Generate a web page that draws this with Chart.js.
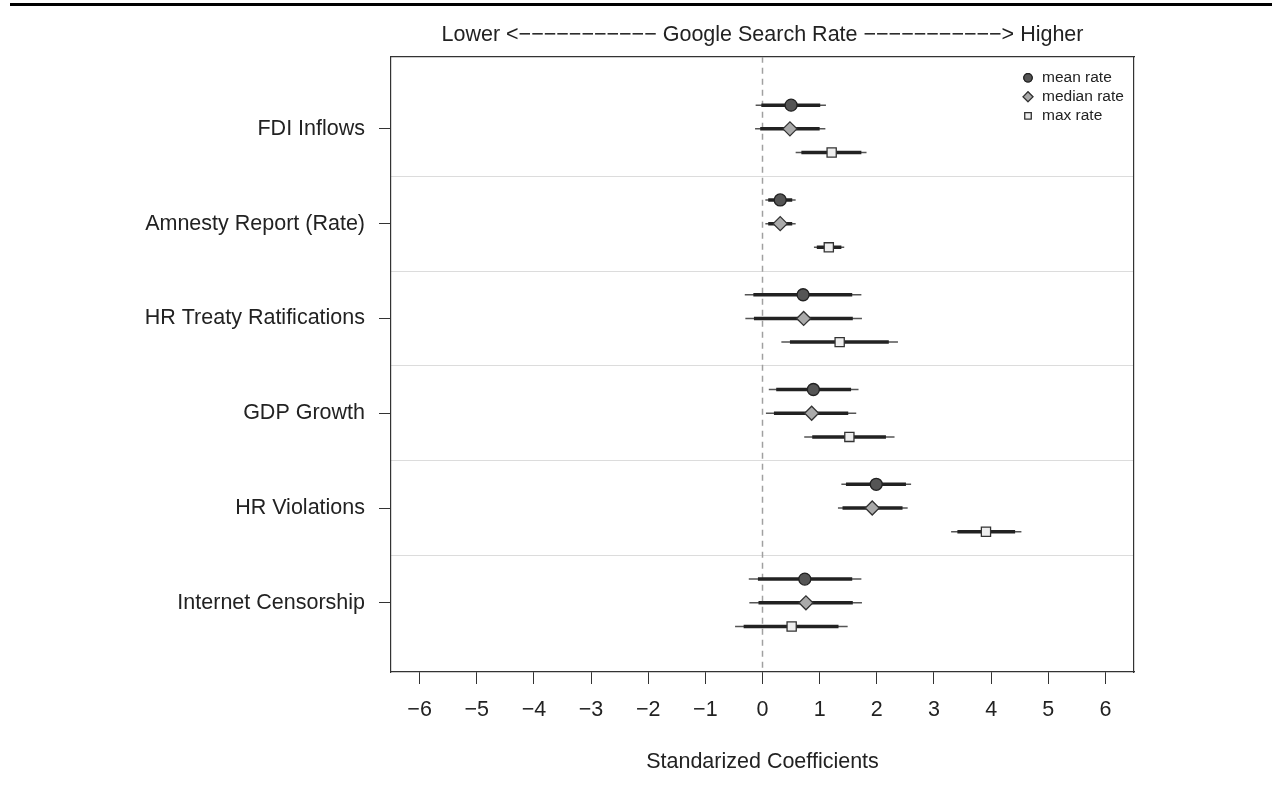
<!DOCTYPE html>
<html lang="en">
<head>
<meta charset="UTF-8">
<title>Standarized Coefficients</title>
<script src="https://cdn.jsdelivr.net/npm/chart.js@4.4.0/dist/chart.umd.min.js"></script>
<style>
    html, body { margin: 0; padding: 0; background: #fff; }
    #wrap { position: relative; width: 1280px; height: 792px; }
    #topRule { position: absolute; left: 10px; top: 3px; width: 1262px; height: 3px; background: #000; }
</style>
</head>
<body>
<div id="wrap">
    <div id="topRule"></div>
    <canvas id="chart" width="1280" height="792"></canvas>
</div>
<script>
// categories, top to bottom
const categories = ['FDI Inflows', 'Amnesty Report (Rate)', 'HR Treaty Ratifications', 'GDP Growth', 'HR Violations', 'Internet Censorship'];
const seriesNames = ['mean rate', 'median rate', 'max rate'];
const xTicks = [-6, -5, -4, -3, -2, -1, 0, 1, 2, 3, 4, 5, 6];

// mean rate
const meanEst   = [0.50, 0.31, 0.71, 0.89, 1.99, 0.74];
const meanLoIn  = [-0.02, 0.10, -0.16, 0.24, 1.46, -0.08];
const meanHiIn  = [1.01, 0.52, 1.57, 1.55, 2.51, 1.57];
const meanLoOut = [-0.12, 0.05, -0.31, 0.11, 1.38, -0.24];
const meanHiOut = [1.11, 0.58, 1.73, 1.68, 2.60, 1.73];

// median rate
const medEst   = [0.48, 0.31, 0.72, 0.86, 1.92, 0.76];
const medLoIn  = [-0.04, 0.10, -0.15, 0.20, 1.40, -0.07];
const medHiIn  = [1.00, 0.52, 1.58, 1.50, 2.45, 1.58];
const medLoOut = [-0.13, 0.05, -0.30, 0.06, 1.32, -0.23];
const medHiOut = [1.10, 0.58, 1.74, 1.64, 2.54, 1.74];

// max rate
const maxEst   = [1.21, 1.16, 1.35, 1.52, 3.91, 0.51];
const maxLoIn  = [0.68, 0.95, 0.48, 0.87, 3.41, -0.33];
const maxHiIn  = [1.73, 1.38, 2.21, 2.16, 4.42, 1.33];
const maxLoOut = [0.58, 0.90, 0.33, 0.73, 3.30, -0.48];
const maxHiOut = [1.82, 1.43, 2.37, 2.31, 4.53, 1.49];

const FONT = '"Liberation Sans", Arial, Helvetica, sans-serif';
const FS = 21.5;
const Y_MIN = -0.76, Y_MAX = 5.73;

const styles = [
    { off: -0.25, shape: 'circle',  radius: 6,   fill: '#555555', edge: '#222222' },
    { off: 0,     shape: 'rectRot', radius: 7,   fill: '#aaaaaa', edge: '#333333' },
    { off: 0.25,  shape: 'rect',    radius: 6.5, fill: '#eeeeee', edge: '#333333' }
];
const series = [
    [meanEst, meanLoIn, meanHiIn, meanLoOut, meanHiOut],
    [medEst, medLoIn, medHiIn, medLoOut, medHiOut],
    [maxEst, maxLoIn, maxHiIn, maxLoOut, maxHiOut]
];

// segments separated by NaN points so the line breaks between rows
function segments(lo, hi, off) {
    const pts = [];
    lo.forEach((v, i) => {
        pts.push({ x: v, y: i + off }, { x: hi[i], y: i + off }, { x: NaN, y: NaN });
    });
    return pts;
}

const datasets = [];
series.forEach((s, k) => {
    const st = styles[k];
    datasets.push({
        label: seriesNames[k],
        data: s[0].map((v, i) => ({ x: v, y: i + st.off })),
        pointStyle: st.shape,
        pointRadius: st.radius,
        pointBackgroundColor: st.fill,
        pointBorderColor: st.edge,
        pointBorderWidth: 1.3,
        showLine: false,
        order: 0
    });
    datasets.push({
        label: seriesNames[k] + ' inner',
        data: segments(s[1], s[2], st.off),
        showLine: true, spanGaps: false,
        borderColor: '#222222', borderWidth: 3.5,
        pointRadius: 0, order: 1
    });
    datasets.push({
        label: seriesNames[k] + ' outer',
        data: segments(s[3], s[4], st.off),
        showLine: true, spanGaps: false,
        borderColor: '#555555', borderWidth: 1.5,
        pointRadius: 0, order: 2
    });
});
// zero reference line
datasets.push({
    label: 'zero',
    data: [{ x: 0, y: Y_MIN }, { x: 0, y: Y_MAX }],
    showLine: true, borderColor: '#a0a0a0', borderWidth: 1.5, borderDash: [6, 5],
    pointRadius: 0, order: 3
});

// legend inside the top-right of the plot
const boxLegend = {
    id: 'boxLegend',
    afterDraw(chart) {
        const ctx = chart.ctx;
        const x0 = chart.chartArea.right - 106, y0 = chart.chartArea.top + 21;
        ctx.save();
        ctx.font = '15.5px ' + FONT;
        ctx.textBaseline = 'middle';
        seriesNames.forEach((name, k) => {
            const st = styles[k];
            const y = y0 + k * 19;
            ctx.fillStyle = st.fill;
            ctx.strokeStyle = st.edge;
            ctx.lineWidth = 1.2;
            Chart.helpers.drawPoint(ctx, { pointStyle: st.shape, radius: st.radius * 0.7, rotation: 0, borderWidth: 1.2 }, x0, y);
            ctx.fill();
            ctx.stroke();
            ctx.fillStyle = '#222';
            ctx.fillText(name, x0 + 14, y);
        });
        ctx.restore();
    }
};

const dash = '\u2212'.repeat(11);

new Chart(document.getElementById('chart'), {
    type: 'scatter',
    data: { datasets },
    options: {
        responsive: false,
        animation: false,
        layout: { padding: { left: 0, right: 146, top: 0, bottom: 0 } },
        plugins: {
            legend: { display: false },
            tooltip: { enabled: false },
            title: {
                display: true,
                fullSize: false,
                text: 'Lower <' + dash + ' Google Search Rate ' + dash + '> Higher',
                color: '#222',
                font: { family: FONT, size: FS, weight: 'normal' },
                padding: { top: 22, bottom: 9 }
            }
        },
        scales: {
            x: {
                type: 'linear', position: 'bottom', min: -6.5, max: 6.5,
                afterBuildTicks: s => { s.ticks = xTicks.map(v => ({ value: v })); },
                afterFit: s => { s.height = 120; },
                ticks: {
                    color: '#222', padding: 13, maxRotation: 0,
                    font: { family: FONT, size: FS },
                    callback: v => v < 0 ? '\u2212' + Math.abs(v) : String(v)
                },
                grid: { drawOnChartArea: false, tickLength: 12, color: '#333' },
                border: { color: '#333', width: 1.2 },
                title: {
                    display: true, text: 'Standarized Coefficients', color: '#222',
                    font: { family: FONT, size: FS }, padding: { top: 0, bottom: 17 }
                }
            },
            xTop: {
                type: 'linear', position: 'top', min: -6.5, max: 6.5,
                afterFit: s => { s.height = 0; },
                ticks: { display: false },
                grid: { display: false, drawTicks: false },
                border: { display: true, color: '#333', width: 1.2 }
            },
            y: {
                type: 'linear', position: 'left', reverse: true, min: Y_MIN, max: Y_MAX,
                afterBuildTicks: s => { s.ticks = categories.map((c, i) => ({ value: i })); },
                afterFit: s => { s.width = 391; },
                ticks: {
                    color: '#222', padding: 14,
                    font: { family: FONT, size: FS },
                    callback: v => categories[v]
                },
                grid: { drawOnChartArea: false, tickLength: 12, color: '#333' },
                border: { color: '#333', width: 1.2 }
            },
            ySep: {
                type: 'linear', position: 'right', reverse: true, min: Y_MIN, max: Y_MAX,
                afterBuildTicks: s => { s.ticks = categories.slice(1).map((c, i) => ({ value: i + 0.5 })); },
                afterFit: s => { s.width = 0; },
                ticks: { display: false },
                grid: { color: '#dcdcdc', lineWidth: 1, drawTicks: false },
                border: { display: true, color: '#333', width: 1.2 }
            }
        }
    },
    plugins: [boxLegend]
});
</script>
</body>
</html>
